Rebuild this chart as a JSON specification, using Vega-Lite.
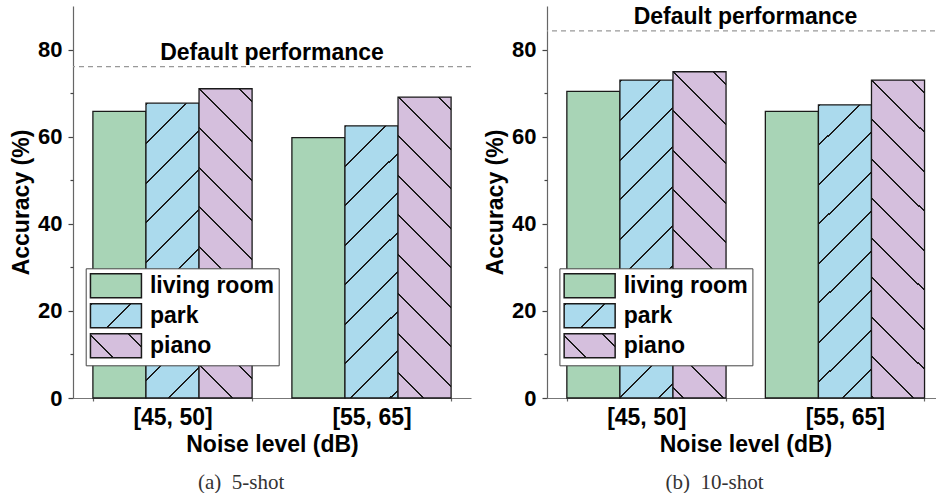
{
  "$schema": "https://vega.github.io/schema/vega-lite/v6.json",
  "background": "white",
  "padding": {"left": 10, "top": 5, "right": 0, "bottom": 0},
  "config": {
    "font": "Liberation Sans",
    "view": {"stroke": null},
    "concat": {"spacing": 12},
    "axisY": {
      "grid": false, "domainColor": "#666666", "domainWidth": 1.2,
      "tickColor": "#444444", "tickWidth": 1.2, "tickSize": 5,
      "labelFontSize": 22, "labelFontWeight": "bold", "labelColor": "black", "labelPadding": 6,
      "titleFontSize": 23, "titleFontWeight": "bold", "titleColor": "black", "titlePadding": 4
    },
    "axisX": {
      "grid": false, "domainColor": "#777777", "domainWidth": 1.2,
      "tickColor": "#666666", "tickWidth": 1.2, "tickSize": 3, "tickBand": "extent",
      "labelAngle": 0, "labelFontSize": 23, "labelFontWeight": "bold", "labelColor": "black", "labelPadding": 5,
      "titleFontSize": 23, "titleFontWeight": "bold", "titleColor": "black", "titlePadding": 4
    },
    "legend": {
      "title": null,
      "symbolType": "M-2,-0.94H2V0.94H-2Z", "symbolSize": 650, "symbolStrokeWidth": 1.5,
      "symbolOffset": 12.75,
      "labelFont": "Liberation Sans", "labelFontWeight": "bold", "labelFontSize": 23, "labelColor": "black",
      "labelOffset": 20.5, "labelLimit": 0, "rowPadding": -1, "padding": 4,
      "fillColor": "white", "strokeColor": "#444444"
    }
  },
  "params": [
    {"name": "parkStops", "value": [
      {"offset": 0, "color": "#abdaed"},
      {"offset": 0.0005, "color": "#abdaed"}, {"offset": 0.0005, "color": "#1a1a1a"}, {"offset": 0.0055, "color": "#1a1a1a"}, {"offset": 0.0055, "color": "#abdaed"},
      {"offset": 0.09925, "color": "#abdaed"}, {"offset": 0.09925, "color": "#1a1a1a"}, {"offset": 0.10425, "color": "#1a1a1a"}, {"offset": 0.10425, "color": "#abdaed"},
      {"offset": 0.198, "color": "#abdaed"}, {"offset": 0.198, "color": "#1a1a1a"}, {"offset": 0.203, "color": "#1a1a1a"}, {"offset": 0.203, "color": "#abdaed"},
      {"offset": 0.29675, "color": "#abdaed"}, {"offset": 0.29675, "color": "#1a1a1a"}, {"offset": 0.30175, "color": "#1a1a1a"}, {"offset": 0.30175, "color": "#abdaed"},
      {"offset": 0.3955, "color": "#abdaed"}, {"offset": 0.3955, "color": "#1a1a1a"}, {"offset": 0.4005, "color": "#1a1a1a"}, {"offset": 0.4005, "color": "#abdaed"},
      {"offset": 0.49425, "color": "#abdaed"}, {"offset": 0.49425, "color": "#1a1a1a"}, {"offset": 0.49925, "color": "#1a1a1a"}, {"offset": 0.49925, "color": "#abdaed"},
      {"offset": 0.593, "color": "#abdaed"}, {"offset": 0.593, "color": "#1a1a1a"}, {"offset": 0.598, "color": "#1a1a1a"}, {"offset": 0.598, "color": "#abdaed"},
      {"offset": 0.69175, "color": "#abdaed"}, {"offset": 0.69175, "color": "#1a1a1a"}, {"offset": 0.69675, "color": "#1a1a1a"}, {"offset": 0.69675, "color": "#abdaed"},
      {"offset": 0.7905, "color": "#abdaed"}, {"offset": 0.7905, "color": "#1a1a1a"}, {"offset": 0.7955, "color": "#1a1a1a"}, {"offset": 0.7955, "color": "#abdaed"},
      {"offset": 0.88925, "color": "#abdaed"}, {"offset": 0.88925, "color": "#1a1a1a"}, {"offset": 0.89425, "color": "#1a1a1a"}, {"offset": 0.89425, "color": "#abdaed"},
      {"offset": 1, "color": "#abdaed"}
    ]},
    {"name": "pianoStops", "value": [
      {"offset": 0, "color": "#d5bfdd"},
      {"offset": 0.03, "color": "#d5bfdd"}, {"offset": 0.03, "color": "#1a1a1a"}, {"offset": 0.035, "color": "#1a1a1a"}, {"offset": 0.035, "color": "#d5bfdd"},
      {"offset": 0.12875, "color": "#d5bfdd"}, {"offset": 0.12875, "color": "#1a1a1a"}, {"offset": 0.13375, "color": "#1a1a1a"}, {"offset": 0.13375, "color": "#d5bfdd"},
      {"offset": 0.2275, "color": "#d5bfdd"}, {"offset": 0.2275, "color": "#1a1a1a"}, {"offset": 0.2325, "color": "#1a1a1a"}, {"offset": 0.2325, "color": "#d5bfdd"},
      {"offset": 0.32625, "color": "#d5bfdd"}, {"offset": 0.32625, "color": "#1a1a1a"}, {"offset": 0.33125, "color": "#1a1a1a"}, {"offset": 0.33125, "color": "#d5bfdd"},
      {"offset": 0.425, "color": "#d5bfdd"}, {"offset": 0.425, "color": "#1a1a1a"}, {"offset": 0.43, "color": "#1a1a1a"}, {"offset": 0.43, "color": "#d5bfdd"},
      {"offset": 0.52375, "color": "#d5bfdd"}, {"offset": 0.52375, "color": "#1a1a1a"}, {"offset": 0.52875, "color": "#1a1a1a"}, {"offset": 0.52875, "color": "#d5bfdd"},
      {"offset": 0.6225, "color": "#d5bfdd"}, {"offset": 0.6225, "color": "#1a1a1a"}, {"offset": 0.6275, "color": "#1a1a1a"}, {"offset": 0.6275, "color": "#d5bfdd"},
      {"offset": 0.72125, "color": "#d5bfdd"}, {"offset": 0.72125, "color": "#1a1a1a"}, {"offset": 0.72625, "color": "#1a1a1a"}, {"offset": 0.72625, "color": "#d5bfdd"},
      {"offset": 0.82, "color": "#d5bfdd"}, {"offset": 0.82, "color": "#1a1a1a"}, {"offset": 0.825, "color": "#1a1a1a"}, {"offset": 0.825, "color": "#d5bfdd"},
      {"offset": 0.91875, "color": "#d5bfdd"}, {"offset": 0.91875, "color": "#1a1a1a"}, {"offset": 0.92375, "color": "#1a1a1a"}, {"offset": 0.92375, "color": "#d5bfdd"},
      {"offset": 1, "color": "#d5bfdd"}
    ]}
  ],
  "datasets": {
    "accuracy": [
      {"shot": "5-shot", "noise": "[45, 50]", "series": "living room", "acc": 65.8},
      {"shot": "5-shot", "noise": "[45, 50]", "series": "park", "acc": 67.7},
      {"shot": "5-shot", "noise": "[45, 50]", "series": "piano", "acc": 71.0},
      {"shot": "5-shot", "noise": "[55, 65]", "series": "living room", "acc": 59.8},
      {"shot": "5-shot", "noise": "[55, 65]", "series": "park", "acc": 62.5},
      {"shot": "5-shot", "noise": "[55, 65]", "series": "piano", "acc": 69.1},
      {"shot": "10-shot", "noise": "[45, 50]", "series": "living room", "acc": 70.4},
      {"shot": "10-shot", "noise": "[45, 50]", "series": "park", "acc": 73.0},
      {"shot": "10-shot", "noise": "[45, 50]", "series": "piano", "acc": 74.9},
      {"shot": "10-shot", "noise": "[55, 65]", "series": "living room", "acc": 65.8},
      {"shot": "10-shot", "noise": "[55, 65]", "series": "park", "acc": 67.3},
      {"shot": "10-shot", "noise": "[55, 65]", "series": "piano", "acc": 73.0}
    ],
    "defaults": [
      {"shot": "5-shot", "acc": 76.1},
      {"shot": "10-shot", "acc": 84.3}
    ]
  },
  "hconcat": [
    {
      "width": 398, "height": 392,
      "title": {"text": "(a)\u00a0\u00a05-shot", "orient": "bottom", "anchor": "middle", "frame": "bounds", "font": "Liberation Serif", "fontSize": 21, "fontWeight": "normal", "color": "#333333", "offset": 16},
      "layer": [
        {
          "data": {"name": "accuracy"},
          "transform": [{"filter": "datum.shot === '5-shot'"}],
          "mark": {"type": "bar", "strokeWidth": 1.3},
          "encoding": {
            "x": {"field": "noise", "type": "nominal", "sort": ["[45, 50]", "[55, 65]"], "scale": {"paddingInner": 0.2, "paddingOuter": 0.1}, "title": "Noise level (dB)"},
            "xOffset": {"field": "series", "type": "nominal", "sort": ["living room", "park", "piano"], "scale": {"paddingInner": 0, "paddingOuter": 0}},
            "y": {"field": "acc", "type": "quantitative", "stack": null, "scale": {"domain": [0, 90], "nice": false}, "axis": {"values": [0, 20, 40, 60, 80], "title": "Accuracy (%)", "orient": "left"}},
            "fill": {"value": {"expr": "(datum.series || datum.value) === 'park' ? {gradient:'linear',x1:0,y1:0,x2:400*(datum.acc?53:51)/(pow(datum.acc?53:51,2)+pow(datum.acc?datum.acc*4.3556:24,2)),y2:400*(datum.acc?datum.acc*4.3556:24)/(pow(datum.acc?53:51,2)+pow(datum.acc?datum.acc*4.3556:24,2)),stops:parkStops} : (datum.series || datum.value) === 'piano' ? {gradient:'linear',x1:1,y1:0,x2:1-400*(datum.acc?53:51)/(pow(datum.acc?53:51,2)+pow(datum.acc?datum.acc*4.3556:24,2)),y2:400*(datum.acc?datum.acc*4.3556:24)/(pow(datum.acc?53:51,2)+pow(datum.acc?datum.acc*4.3556:24,2)),stops:pianoStops} : '#a8d4b6'"}},
            "stroke": {
              "field": "series", "type": "nominal",
              "scale": {"domain": ["living room", "park", "piano"], "range": ["#1a1a1a", "#1a1a1a", "#1a1a1a"]},
              "legend": {"orient": "none", "legendX": 12.7, "legendY": 262.3}
            }
          }
        },
        {
          "data": {"name": "defaults"},
          "transform": [{"filter": "datum.shot === '5-shot'"}],
          "mark": {"type": "rule", "color": "#999999", "strokeWidth": 1.2, "strokeDash": [5, 4]},
          "encoding": {
            "y": {"field": "acc", "type": "quantitative", "scale": {"domain": [0, 90], "nice": false}, "axis": {"orient": "left", "values": [10, 30, 50, 70], "labels": false, "domain": false, "tickSize": 3, "title": null}}
          }
        },
        {
          "data": {"name": "defaults"},
          "transform": [{"filter": "datum.shot === '5-shot'"}],
          "mark": {"type": "text", "text": "Default performance", "fontSize": 23, "fontWeight": "bold", "color": "black", "baseline": "alphabetic", "dy": -7},
          "encoding": {
            "y": {"field": "acc", "type": "quantitative", "scale": {"domain": [0, 90], "nice": false}, "axis": null}
          }
        }
      ],
      "resolve": {"axis": {"y": "independent"}}
    },
    {
      "width": 397, "height": 392,
      "title": {"text": "(b)\u00a0\u00a010-shot", "orient": "bottom", "anchor": "middle", "frame": "bounds", "font": "Liberation Serif", "fontSize": 21, "fontWeight": "normal", "color": "#333333", "offset": 16},
      "layer": [
        {
          "data": {"name": "accuracy"},
          "transform": [{"filter": "datum.shot === '10-shot'"}],
          "mark": {"type": "bar", "strokeWidth": 1.3},
          "encoding": {
            "x": {"field": "noise", "type": "nominal", "sort": ["[45, 50]", "[55, 65]"], "scale": {"paddingInner": 0.2, "paddingOuter": 0.1}, "title": "Noise level (dB)"},
            "xOffset": {"field": "series", "type": "nominal", "sort": ["living room", "park", "piano"], "scale": {"paddingInner": 0, "paddingOuter": 0}},
            "y": {"field": "acc", "type": "quantitative", "stack": null, "scale": {"domain": [0, 90], "nice": false}, "axis": {"values": [0, 20, 40, 60, 80], "title": "Accuracy (%)", "orient": "left"}},
            "fill": {"value": {"expr": "(datum.series || datum.value) === 'park' ? {gradient:'linear',x1:0,y1:0,x2:400*(datum.acc?53:51)/(pow(datum.acc?53:51,2)+pow(datum.acc?datum.acc*4.3556:24,2)),y2:400*(datum.acc?datum.acc*4.3556:24)/(pow(datum.acc?53:51,2)+pow(datum.acc?datum.acc*4.3556:24,2)),stops:parkStops} : (datum.series || datum.value) === 'piano' ? {gradient:'linear',x1:1,y1:0,x2:1-400*(datum.acc?53:51)/(pow(datum.acc?53:51,2)+pow(datum.acc?datum.acc*4.3556:24,2)),y2:400*(datum.acc?datum.acc*4.3556:24)/(pow(datum.acc?53:51,2)+pow(datum.acc?datum.acc*4.3556:24,2)),stops:pianoStops} : '#a8d4b6'"}},
            "stroke": {
              "field": "series", "type": "nominal",
              "scale": {"domain": ["living room", "park", "piano"], "range": ["#1a1a1a", "#1a1a1a", "#1a1a1a"]},
              "legend": {"orient": "none", "legendX": 12.4, "legendY": 262.3}
            }
          }
        },
        {
          "data": {"name": "defaults"},
          "transform": [{"filter": "datum.shot === '10-shot'"}],
          "mark": {"type": "rule", "color": "#999999", "strokeWidth": 1.2, "strokeDash": [5, 4]},
          "encoding": {
            "y": {"field": "acc", "type": "quantitative", "scale": {"domain": [0, 90], "nice": false}, "axis": {"orient": "left", "values": [10, 30, 50, 70], "labels": false, "domain": false, "tickSize": 3, "title": null}}
          }
        },
        {
          "data": {"name": "defaults"},
          "transform": [{"filter": "datum.shot === '10-shot'"}],
          "mark": {"type": "text", "text": "Default performance", "fontSize": 23, "fontWeight": "bold", "color": "black", "baseline": "alphabetic", "dy": -7},
          "encoding": {
            "y": {"field": "acc", "type": "quantitative", "scale": {"domain": [0, 90], "nice": false}, "axis": null}
          }
        }
      ],
      "resolve": {"axis": {"y": "independent"}}
    }
  ],
  "resolve": {"scale": {"stroke": "independent"}, "legend": {"stroke": "independent"}}
}
